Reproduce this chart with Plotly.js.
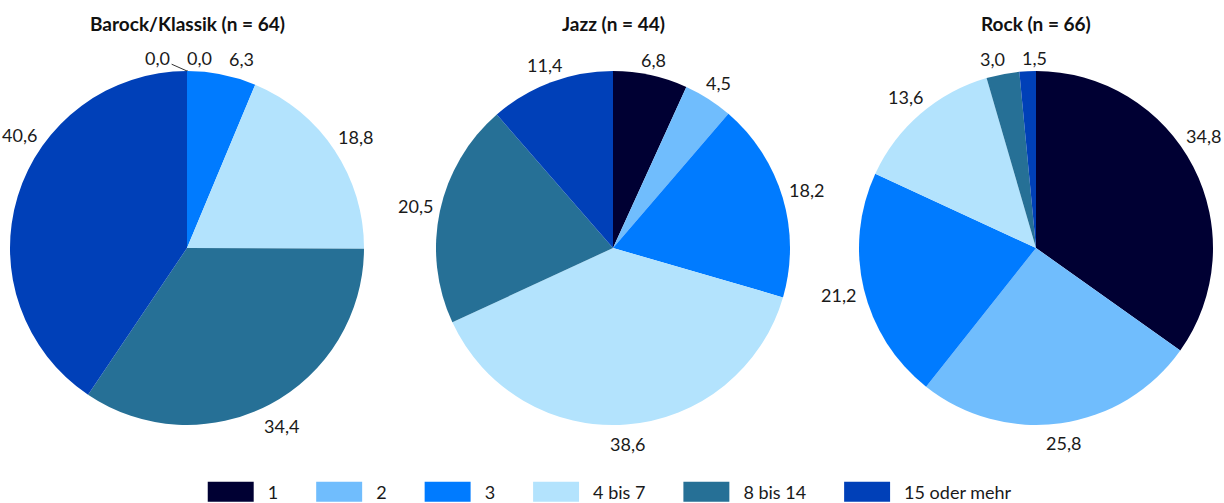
<!DOCTYPE html>
<html><head><meta charset="utf-8">
<script src="https://cdn.plot.ly/plotly-3.0.1.min.js"></script>
<style>html,body{margin:0;padding:0;background:#fff}#chart{width:1224px;height:503px}</style>
</head><body><div id="chart"></div>
<script>
const categories = ["1", "2", "3", "4 bis 7", "8 bis 14", "15 oder mehr"];
const colors = ["#000033", "#70BDFD", "#007BFF", "#B3E3FD", "#267096", "#0040B8"];
const titles = ["Barock/Klassik (n = 64)", "Jazz (n = 44)", "Rock (n = 66)"];
const barock = [0.0, 0.0, 6.3, 18.8, 34.4, 40.6];
const jazz = [6.8, 4.5, 18.2, 38.6, 20.5, 11.4];
const rock = [34.8, 25.8, 21.2, 13.6, 3.0, 1.5];

const W = 1224, H = 503;
const series = [barock, jazz, rock];
const xdom = [[10, 364], [436, 790], [859, 1213]];
const ytop = 71, ybot = 425;
const FONT = "Lato, 'Open Sans', sans-serif";
const LABEL_SIZE = 18;
const TEXT_COLOR = "#1a1a1a";
const LEG_ITEMW = 83;

const data = series.map((vals, i) => ({
  type: "pie",
  labels: categories,
  values: vals,
  sort: false,
  direction: "clockwise",
  rotation: 0,
  marker: {colors: colors, line: {width: 0}},
  textinfo: "none",
  hoverinfo: "label+value",
  showlegend: i === 0,
  domain: {x: [xdom[i][0] / W, xdom[i][1] / W], y: [1 - ybot / H, 1 - ytop / H]}
}));

// ---- data label placement (computed from the slice angles) ----
const ctx = document.createElement("canvas").getContext("2d");
ctx.font = LABEL_SIZE + "px Lato";
const fmt = v => v.toFixed(1).replace(".", ",");
const GAP = 6, HH_TOP = 7, HH_BOT = 12, MINGAP = 17;

function place(theta, hw, cx, cy, R) {
  const hh = Math.cos(theta) >= 0 ? HH_TOP : HH_BOT;
  const half = Math.abs(Math.sin(theta)) * hw + Math.abs(Math.cos(theta)) * hh;
  const d = R + GAP + half;
  return {x: cx + d * Math.sin(theta), y: cy - d * Math.cos(theta)};
}

const annotations = [];
series.forEach((vals, s) => {
  const cx = (xdom[s][0] + xdom[s][1]) / 2, cy = (ytop + ybot) / 2;
  const R = Math.min(xdom[s][1] - xdom[s][0], ybot - ytop) / 2;
  const total = vals.reduce((a, b) => a + b, 0);
  let cum = 0;
  const labs = vals.map((v, i) => {
    let theta = (cum + v / 2) / total * 2 * Math.PI;
    cum += v;
    const text = fmt(v);
    const w = ctx.measureText(text).width;
    const hw = w / 2;
    let p = place(theta, hw, cx, cy, R);
    let n = 0;
    while ((p.x - hw < 2 || p.x + hw > W - 2) && n < 200) {
      const tnorm = Math.atan2(Math.sin(theta), Math.cos(theta));
      const target = Math.cos(theta) >= 0 ? 0 : (tnorm >= 0 ? Math.PI : -Math.PI);
      theta = tnorm + Math.sign(target - tnorm) * Math.PI / 360;
      p = place(theta, hw, cx, cy, R);
      n++;
    }
    return {i, v, text, w, x: p.x, y: p.y, px: cx + R * Math.sin(theta), py: cy - R * Math.cos(theta)};
  });
  // resolve horizontal collisions between neighbouring labels
  for (let it = 0; it < 40; it++) {
    const parent = labs.map((_, k) => k);
    const find = k => parent[k] === k ? k : (parent[k] = find(parent[k]));
    let any = false;
    for (let a = 0; a < labs.length; a++) for (let b = a + 1; b < labs.length; b++) {
      const A = labs[a], B = labs[b];
      if (Math.abs(A.y - B.y) > 18) continue;
      const gap = Math.abs(A.x - B.x) - (A.w + B.w) / 2;
      if (gap < MINGAP + 0.5) parent[find(a)] = find(b);
      if (gap < MINGAP - 0.5) any = true;
    }
    if (!any) break;
    const groups = {};
    labs.forEach((l, k) => { (groups[find(k)] = groups[find(k)] || []).push(l); });
    Object.values(groups).forEach(g => {
      if (g.length < 2) return;
      g.sort((a, b) => a.x - b.x || a.i - b.i);
      const mean = g.reduce((a, l) => a + l.x, 0) / g.length;
      const tot = g.reduce((a, l) => a + l.w, 0) + MINGAP * (g.length - 1);
      let x0 = mean - tot / 2;
      g.forEach(l => { l.x = x0 + l.w / 2; x0 += l.w + MINGAP; });
    });
  }
  labs.forEach(l => {
    const base = {
      text: l.text, showarrow: false,
      font: {family: FONT, size: LABEL_SIZE, color: TEXT_COLOR},
      xref: "paper", yref: "paper", xanchor: "center", yanchor: "middle"
    };
    if (l.v === 0) {
      annotations.push(Object.assign(base, {
        x: l.px / W, y: 1 - l.py / H,
        showarrow: true, arrowhead: 0, arrowwidth: 1, arrowcolor: "#333", standoff: 0,
        ax: l.x - l.px, ay: l.y - l.py
      }));
    } else {
      annotations.push(Object.assign(base, {x: l.x / W, y: 1 - l.y / H}));
    }
  });
});

titles.forEach((t, i) => annotations.push({
  text: "<b>" + t + "</b>",
  xref: "paper", yref: "paper",
  x: (xdom[i][0] + xdom[i][1]) / 2 / W, y: 1 - 23 / H,
  xanchor: "center", yanchor: "middle",
  showarrow: false,
  font: {family: FONT, size: 19, color: "#111"}
}));

const layout = {
  width: W, height: H,
  margin: {l: 0, r: 0, t: 0, b: 0, autoexpand: false},
  paper_bgcolor: "#fff",
  font: {family: FONT, size: 18, color: TEXT_COLOR},
  annotations: annotations,
  legend: {
    orientation: "h", x: 0.4867, xanchor: "center", y: 1 - 492 / H, yanchor: "middle",
    font: {family: FONT, size: 18, color: TEXT_COLOR},
    traceorder: "normal", itemwidth: LEG_ITEMW, bgcolor: "rgba(0,0,0,0)"
  }
};

Plotly.newPlot("chart", data, layout, {displayModeBar: false, staticPlot: true}).then(() => {
  document.querySelectorAll("#chart .legendpie").forEach(p => {
    p.setAttribute("transform", "translate(" + (LEG_ITEMW - 27) + ",0) scale(3.83,1.67)");
  });
});
</script></body></html>
